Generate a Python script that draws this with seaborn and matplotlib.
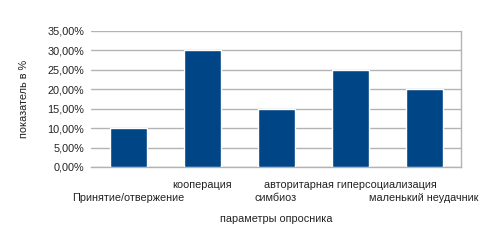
import numpy as np
import pandas as pd
import matplotlib
matplotlib.use('Agg')
import matplotlib.pyplot as plt
import seaborn as sns

categories = ['Принятие/отвержение', 'кооперация', 'симбиоз',
              'авторитарная гиперсоциализация', 'маленький неудачник']
values = [0.10, 0.30, 0.15, 0.25, 0.20]
y_ticks = [0.0, 0.05, 0.10, 0.15, 0.20, 0.25, 0.30, 0.35]

sns.set_style('white')
plt.rcParams['font.family'] = ['Liberation Sans', 'DejaVu Sans']

df = pd.DataFrame({'param': categories, 'value': values})

fig = plt.figure(figsize=(5.04, 2.48), dpi=100)
ax = fig.add_axes([91 / 504, 1 - 167 / 248, 370 / 504, 136 / 248])

sns.barplot(data=df, x='param', y='value', color='#004586', width=0.5,
            saturation=1, ax=ax, zorder=3)

fs = 7.8
ax.set_ylim(0, 0.35)
ax.set_xlim(-0.5, len(categories) - 0.5)
ax.set_yticks(y_ticks)
ax.set_yticklabels([f'{v * 100:.2f}%'.replace('.', ',') for v in y_ticks],
                   fontsize=fs, color='#222222')
ax.yaxis.grid(True, color='#b3b3b3', linewidth=1, zorder=0)
ax.tick_params(axis='y', length=4, width=1, color='#b3b3b3', pad=1)

# category boundaries as ticks, labels staggered in two rows
ax.set_xticks(np.arange(-0.5, len(categories)), minor=True)
ax.tick_params(axis='x', which='minor', length=5, width=1, color='#b3b3b3')
ax.set_xticks(range(len(categories)))
ax.set_xticklabels(categories, fontsize=fs, color='#222222')
ax.tick_params(axis='x', which='major', length=0)
for i, t in enumerate(ax.xaxis.get_major_ticks()):
    t.set_pad(19 if i % 2 == 0 else 9)

for side in ['top', 'left']:
    ax.spines[side].set_visible(False)
for side in ['bottom', 'right']:
    ax.spines[side].set_color('#b3b3b3')
    ax.spines[side].set_linewidth(1)

ax.set_xlabel('параметры опросника', fontsize=fs, color='#222222', labelpad=8)
ax.set_ylabel('показатель в %', fontsize=fs, color='#222222', labelpad=13)

fig.savefig('out.png', dpi=100)
